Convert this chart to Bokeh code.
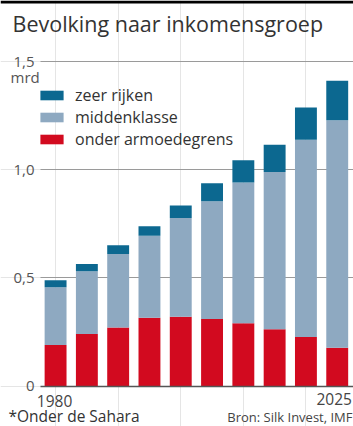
from bokeh.plotting import figure
from bokeh.models import (ColumnDataSource, FixedTicker, Label, Range1d, Legend,
                          LegendItem, BoxAnnotation, Grid)
from bokeh.embed import file_html
from bokeh.resources import INLINE

# Population of sub-Saharan Africa by income group, billions
years = [1980, 1985, 1990, 1995, 2000, 2005, 2010, 2015, 2020, 2025]
armoede = [0.19, 0.24, 0.27, 0.315, 0.32, 0.31, 0.29, 0.262, 0.226, 0.177]
midden_top = [0.457, 0.53, 0.61, 0.695, 0.777, 0.854, 0.941, 0.989, 1.138, 1.228]
totaal = [0.489, 0.564, 0.651, 0.738, 0.834, 0.937, 1.044, 1.115, 1.287, 1.411]
midden = [round(m - a, 3) for m, a in zip(midden_top, armoede)]
rijk = [round(t - m, 3) for t, m in zip(totaal, midden_top)]

groups = ["armoede", "midden", "rijk"]
group_labels = ["onder armoedegrens", "middenklasse", "zeer rijken"]
colors = ["#d20a1f", "#8ea9c1", "#0c6890"]

y_ticks = [0, 0.5, 1.0, 1.5]
y_tick_labels = ["0", "0,5", "1,0", "1,5"]
x_ticks = [1980, 2025]
x_tick_labels = ["1980", "2025"]

FONT = "Open Sans"
W, H = 353, 426
X_START, X_END = 1971.2, 2027.6
Y_START, Y_END = -0.1872, 1.782

source = ColumnDataSource(dict(year=years, armoede=armoede, midden=midden, rijk=rijk))

# the frame fills the whole canvas; axis texts are placed as labels
p = figure(width=W, height=H, output_backend="svg", toolbar_location=None,
           x_range=Range1d(X_START, X_END), y_range=Range1d(Y_START, Y_END),
           x_axis_location=None, y_axis_location=None,
           min_border=0, outline_line_color=None,
           background_fill_color="white", border_fill_color="white")

PLOT_LEFT = 1977.6   # where the grid lines start

grid = Grid(dimension=1, ticker=FixedTicker(ticks=y_ticks[1:]),
            cross_bounds=(PLOT_LEFT, X_END),
            grid_line_color="#9a9a9a", grid_line_width=1.2)
base = Grid(dimension=1, ticker=FixedTicker(ticks=y_ticks[:1]),
            cross_bounds=(PLOT_LEFT, X_END),
            grid_line_color="#555555", grid_line_width=1.5, level="overlay")
p.add_layout(grid)

renderers = p.vbar_stack(groups, x="year", width=3.5, color=colors, source=source,
                         line_color=None)
p.add_layout(base)

# y tick labels, right-aligned just left of the grid lines
for t, l in zip(y_ticks, y_tick_labels):
    p.add_layout(Label(x=34, x_units="screen", y=t, text=l, text_font=FONT,
                       text_font_size="15px", text_color="#555555",
                       text_align="right", text_baseline="middle"))

# x tick labels under the first and last bar
for t, l in zip(x_ticks, x_tick_labels):
    last = t == x_ticks[-1]
    p.add_layout(Label(x=t, y=H - (398.5 if last else 400.5), y_units="screen",
                       text=l, text_font=FONT,
                       text_font_size="15.5px", text_color="#444444",
                       text_align="center", text_baseline="middle",
                       x_offset=-3 if last else -1))

# legend, top item first
items = [LegendItem(label=group_labels[i], renderers=[renderers[i]]) for i in (2, 1, 0)]
legend = Legend(items=items, location=(37, H - 150), orientation="vertical",
                glyph_width=29, glyph_height=12, label_height=20, spacing=-2,
                padding=0, margin=0, label_standoff=9,
                border_line_color=None, background_fill_alpha=0,
                label_text_font=FONT, label_text_font_size="16px",
                label_text_color="#333333")
p.add_layout(legend)

# black rule across the top of the page (3 px high)
p.add_layout(BoxAnnotation(bottom=Y_END - 3 * (Y_END - Y_START) / H,
                           fill_color="black", fill_alpha=1, line_color=None,
                           level="overlay"))

def screen_label(text, x, y, size, color, align="left"):
    # x, y measured from the top-left corner, y at the text's middle
    p.add_layout(Label(x=x, y=H - y, x_units="screen", y_units="screen",
                       text=text, text_font=FONT, text_font_size=size,
                       text_color=color, text_align=align,
                       text_baseline="middle"))

screen_label("Bevolking naar inkomensgroep", 12, 22.5, "21.5px", "#333333")
screen_label("mrd", 10, 76, "15px", "#555555")
screen_label("*Onder de Sahara", 8, 415, "15.5px", "#333333")
screen_label("Bron: Silk Invest, IMF", 352, 416, "13px", "#444444", align="right")

open("out.html", "w").write(file_html(p, INLINE))
